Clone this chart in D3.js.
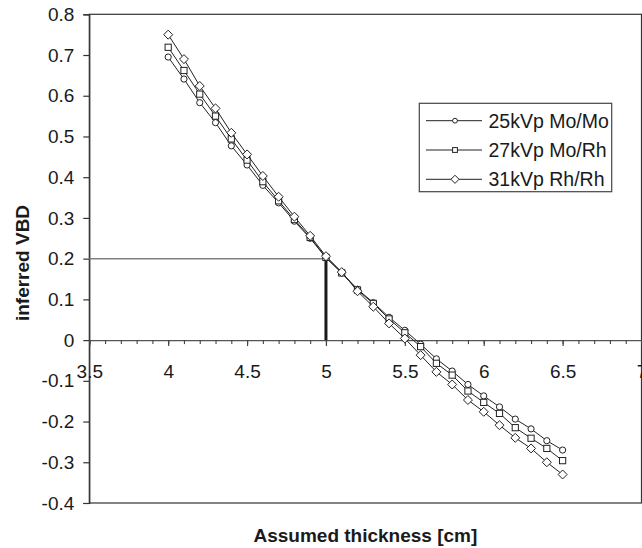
<!DOCTYPE html>
<html>
<head>
<meta charset="utf-8">
<script src="https://cdn.jsdelivr.net/npm/d3@7"></script>
<style>
  html, body { margin: 0; padding: 0; background: #fff; }
  svg { display: block; }
  text { font-family: "Liberation Sans", Arial, sans-serif; fill: #1a1a1a; }
</style>
</head>
<body>
<svg id="chart" width="642" height="548"></svg>
<script>
// Assumed breast thickness (cm)
const thickness = [4.0, 4.1, 4.2, 4.3, 4.4, 4.5, 4.6, 4.7, 4.8, 4.9, 5.0, 5.1, 5.2,
                   5.3, 5.4, 5.5, 5.6, 5.7, 5.8, 5.9, 6.0, 6.1, 6.2, 6.3, 6.4, 6.5];

// Inferred VBD per beam quality
const moMo25 = [0.695, 0.641, 0.583, 0.534, 0.477, 0.430, 0.380, 0.337, 0.292, 0.250, 0.202, 0.165, 0.125,
                0.092, 0.056, 0.024, -0.010, -0.046, -0.076, -0.109, -0.137, -0.164, -0.194, -0.218, -0.247, -0.270];
const moRh27 = [0.719, 0.662, 0.604, 0.550, 0.494, 0.442, 0.389, 0.342, 0.296, 0.252, 0.203, 0.165, 0.123,
                0.090, 0.052, 0.018, -0.016, -0.057, -0.086, -0.125, -0.153, -0.180, -0.215, -0.241, -0.266, -0.296];
const rhRh31 = [0.750, 0.690, 0.624, 0.569, 0.509, 0.456, 0.403, 0.352, 0.303, 0.256, 0.206, 0.167, 0.120,
                0.082, 0.041, 0.004, -0.037, -0.078, -0.109, -0.147, -0.176, -0.209, -0.240, -0.266, -0.300, -0.330];

const seriesNames = ["25kVp Mo/Mo", "27kVp Mo/Rh", "31kVp Rh/Rh"];
const seriesMarkers = ["circle", "square", "diamond"];

const xTickValues = [3.5, 4, 4.5, 5, 5.5, 6, 6.5, 7];
const xTickLabels = ["3.5", "4", "4.5", "5", "5.5", "6", "6.5", "7"];
const yTickValues = [-0.4, -0.3, -0.2, -0.1, 0, 0.1, 0.2, 0.3, 0.4, 0.5, 0.6, 0.7, 0.8];
const yTickLabels = ["-0.4", "-0.3", "-0.2", "-0.1", "0", "0.1", "0.2", "0.3", "0.4", "0.5", "0.6", "0.7", "0.8"];

// Reference point: true thickness and its VBD
const refThickness = 5.0;
const refVBD = 0.2;

const svg = d3.select("#chart");
const W = 642, H = 548;
const plotL = 89.3, plotR = 641.5, plotT = 14.3, plotB = 503;

const x = d3.scaleLinear().domain([3.5, 7]).range([plotL, plotR]);
const y = d3.scaleLinear().domain([-0.4, 0.8]).range([plotB, plotT]);

svg.append("rect").attr("width", W).attr("height", H).attr("fill", "#fff");

// plot frame
svg.append("rect")
  .attr("x", plotL).attr("y", plotT)
  .attr("width", plotR - plotL).attr("height", plotB - plotT)
  .attr("fill", "none").attr("stroke", "#333").attr("stroke-width", 1.2);

// y axis
const yAxis = d3.axisLeft(y).tickValues(yTickValues).tickSize(6).tickPadding(9)
  .tickFormat((d, i) => yTickLabels[i]);
const gy = svg.append("g").attr("transform", `translate(${plotL},0)`).call(yAxis);
gy.select(".domain").attr("stroke", "#333").attr("stroke-width", 1.2);
gy.selectAll(".tick line").attr("stroke", "#333").attr("stroke-width", 1.2);
gy.selectAll(".tick text").style("font-size", "19px").attr("fill", "#1a1a1a");

// x axis sits on y = 0: minor ticks every 0.1
const minorTicks = d3.range(35, 71).map(v => v / 10);
const xMinor = d3.axisBottom(x).tickValues(minorTicks).tickSize(4).tickFormat("");
const gxm = svg.append("g").attr("transform", `translate(0,${y(0)})`).call(xMinor);
gxm.select(".domain").attr("stroke", "#555").attr("stroke-width", 1.4);
gxm.selectAll(".tick line").attr("stroke", "#444").attr("stroke-width", 1.1);

const xAxis = d3.axisBottom(x).tickValues(xTickValues).tickSize(6).tickPadding(18)
  .tickFormat((d, i) => xTickLabels[i]);
const gx = svg.append("g").attr("transform", `translate(0,${y(0)})`).call(xAxis);
gx.select(".domain").remove();
gx.selectAll(".tick line").attr("stroke", "#444").attr("stroke-width", 1.2);
gx.selectAll(".tick text").style("font-size", "19px").attr("fill", "#1a1a1a");

// reference lines
svg.append("line")
  .attr("x1", x(3.5)).attr("x2", x(refThickness))
  .attr("y1", y(refVBD)).attr("y2", y(refVBD))
  .attr("stroke", "#808080").attr("stroke-width", 1.5);
svg.append("line")
  .attr("x1", x(refThickness)).attr("x2", x(refThickness))
  .attr("y1", y(0)).attr("y2", y(refVBD))
  .attr("stroke", "#1a1a1a").attr("stroke-width", 3);

// series
const allSeries = [moMo25, moRh27, rhRh31].map((vals, i) => ({
  name: seriesNames[i],
  marker: seriesMarkers[i],
  points: thickness.map((t, j) => ({ t, v: vals[j] }))
}));

const line = d3.line().x(d => x(d.t)).y(d => y(d.v));

function drawMarker(g, type, cx, cy, size) {
  if (type === "circle") {
    g.append("circle").attr("cx", cx).attr("cy", cy).attr("r", size)
      .attr("fill", "#fff").attr("stroke", "#222").attr("stroke-width", 1);
  } else if (type === "square") {
    g.append("rect").attr("x", cx - size).attr("y", cy - size)
      .attr("width", 2 * size).attr("height", 2 * size)
      .attr("fill", "#fff").attr("stroke", "#222").attr("stroke-width", 1);
  } else {
    const s = size * 1.45;
    g.append("path")
      .attr("d", `M${cx},${cy - s}L${cx + s},${cy}L${cx},${cy + s}L${cx - s},${cy}Z`)
      .attr("fill", "#fff").attr("stroke", "#222").attr("stroke-width", 1);
  }
}

allSeries.forEach(s => {
  const g = svg.append("g");
  g.append("path").datum(s.points).attr("d", line)
    .attr("fill", "none").attr("stroke", "#222").attr("stroke-width", 1);
  s.points.forEach(p => drawMarker(g, s.marker, x(p.t), y(p.v), 3.1));
});

// legend
const lg = svg.append("g");
lg.append("rect").attr("x", 419.3).attr("y", 103.3).attr("width", 192.4).attr("height", 88.4)
  .attr("fill", "#fff").attr("stroke", "#444").attr("stroke-width", 1.2);
const rowY = [120.7, 150, 179.3];
allSeries.forEach((s, i) => {
  lg.append("line").attr("x1", 426).attr("x2", 482).attr("y1", rowY[i]).attr("y2", rowY[i])
    .attr("stroke", "#222").attr("stroke-width", 1);
  drawMarker(lg, s.marker, 455, rowY[i], s.marker === "diamond" ? 2.8 : 2.4);
  lg.append("text").attr("x", 488.5).attr("y", rowY[i]).attr("dy", "0.35em")
    .style("font-size", "19.5px").text(s.name);
});

// axis titles
svg.append("text")
  .attr("transform", `translate(29,263) rotate(-90)`)
  .attr("text-anchor", "middle")
  .style("font-size", "19px").style("font-weight", "bold")
  .text("inferred VBD");
svg.append("text")
  .attr("x", (plotL + plotR) / 2).attr("y", 542)
  .attr("text-anchor", "middle")
  .style("font-size", "19px").style("font-weight", "bold")
  .text("Assumed thickness [cm]");
</script>
</body>
</html>
